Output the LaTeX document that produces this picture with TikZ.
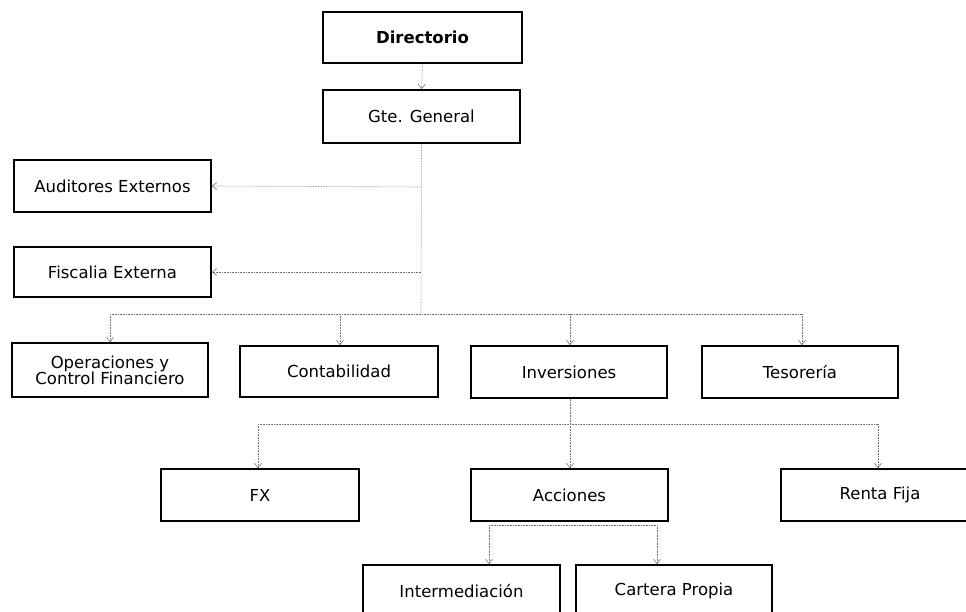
\documentclass[tikz,border=0pt]{standalone}
\usepackage{fontspec}
\setmainfont{DejaVu Sans}
\usetikzlibrary{arrows.meta}
\tikzset{
  box/.style={draw=black, line width=1.6pt, fill=white, rectangle, align=center,
    minimum width=197pt, minimum height=52pt, inner sep=2pt,
    font=\fontsize{16.5}{17}\selectfont},
  link/.style={draw=black!55, densely dotted, line width=0.6pt},
  arr/.style={link, -{Straight Barb[length=4.5pt,width=7pt]}}
}
\begin{document}
\begin{tikzpicture}[x=1pt,y=-1pt]
\useasboundingbox (0,0) rectangle (966,612);
% boxes
\node[box, font=\bfseries\fontsize{16.5}{17}\selectfont, minimum width=199pt, minimum height=51pt] (dir) at (422.5,37.5) {Directorio};
\node[box, minimum height=53pt] (gte) at (421.5,116.5) {Gte. General};
\node[box] (aud) at (112.5,186) {Auditores Externos};
\node[box, minimum height=50pt] (fis) at (112.5,272) {Fiscalia Externa};
\node[box, minimum width=196pt, minimum height=54pt, font=\fontsize{16.5}{16}\selectfont] (ops) at (110,370) {Operaciones y\\Control Financiero};
\node[box, minimum width=198pt, minimum height=51pt] (con) at (339,371.5) {Contabilidad};
\node[box, minimum width=196pt] (inv) at (569,372) {Inversiones};
\node[box, minimum width=196pt] (tes) at (800,372) {Tesorería};
\node[box, minimum width=198pt] (fx) at (260,495) {FX};
\node[box] (acc) at (569.5,495) {Acciones};
\node[box, minimum width=198pt] (ren) at (880,495) {Renta Fija};
\node[box] (int) at (461.5,591) {Intermediación};
\node[box, minimum width=196pt] (car) at (674,591) {Cartera Propia};
% coordinates
\coordinate (t1) at (421,187);
\coordinate (t2) at (421,272);
\coordinate (bus) at (421,314);
\coordinate (bL) at (110,314);
\coordinate (bC) at (340,314);
\coordinate (bI) at (570,314);
\coordinate (bT) at (802,314);
\coordinate (m0) at (570,424);
\coordinate (mL) at (258,424);
\coordinate (mR) at (878,424);
\coordinate (a0) at (570,525);
\coordinate (aL) at (489,525);
\coordinate (aR) at (657,525);
% connectors
\draw[arr] (dir.south) -- (gte.north);
\draw[link] (gte.south) -- (bus);
\draw[arr] (t1) -- (aud.east);
\draw[arr] (t2) -- (fis.east);
\draw[link] (bL) -- (bT);
\draw[arr] (bL) -- (ops.north -| bL);
\draw[arr] (bC) -- (con.north -| bC);
\draw[arr] (bI) -- (inv.north -| bI);
\draw[arr] (bT) -- (tes.north -| bT);
\draw[link] (inv.south -| m0) -- (m0);
\draw[link] (mL) -- (mR);
\draw[arr] (mL) -- (fx.north -| mL);
\draw[arr] (m0) -- (acc.north -| m0);
\draw[arr] (mR) -- (ren.north -| mR);
\draw[link] (aL) -- (aR);
\draw[arr] (aL) -- (int.north -| aL);
\draw[arr] (aR) -- (car.north -| aR);
\end{tikzpicture}
\end{document}
